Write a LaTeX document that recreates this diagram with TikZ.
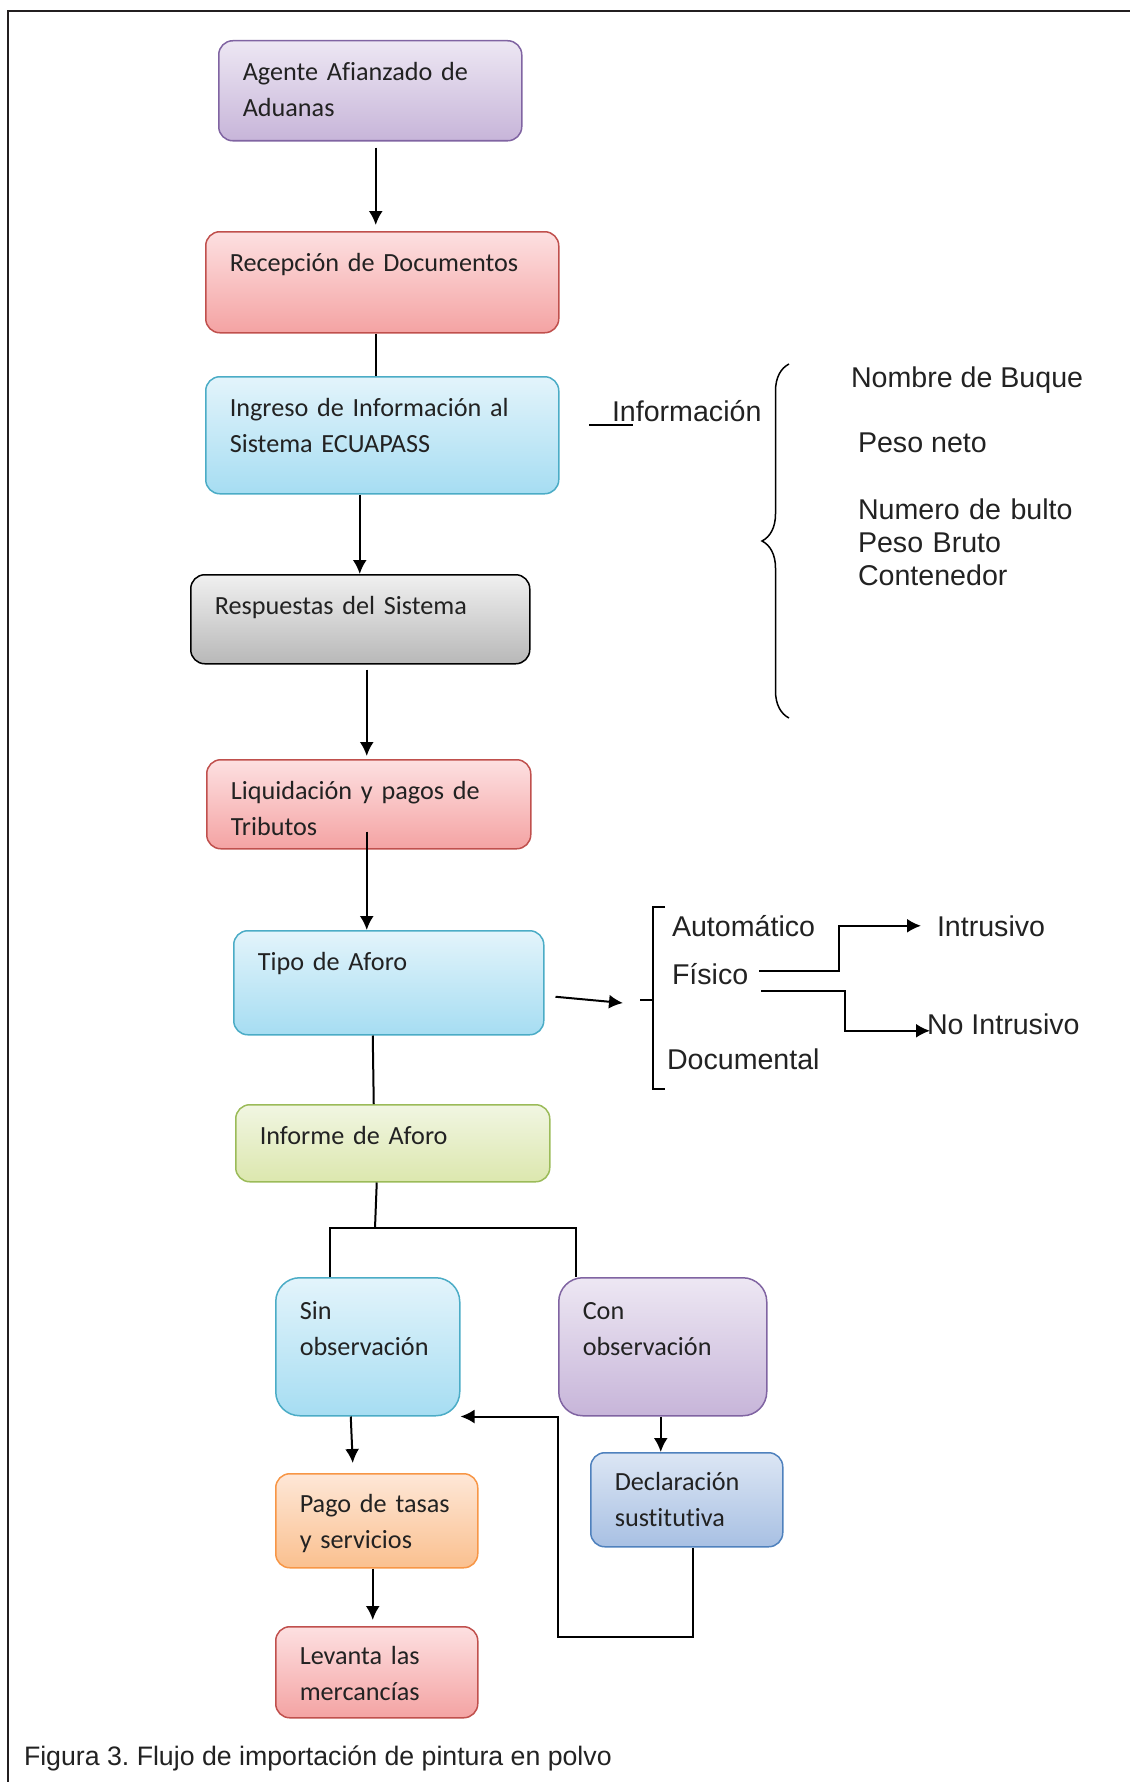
\documentclass[tikz,border=0pt]{standalone}
\usepackage{fontspec}
\setmainfont{Liberation Sans}
\newfontfamily\calib{Carlito}[Ligatures=NoCommon, WordSpace=0.75]
\frenchspacing
\usetikzlibrary{positioning,arrows.meta,decorations.pathreplacing}
\tikzset{>={Latex[length=14pt,width=14pt]}}

\definecolor{ink}{HTML}{222222}
\definecolor{framec}{HTML}{231F20}
\definecolor{purptop}{HTML}{EDE7F3}
\definecolor{purpbot}{HTML}{C7B5D9}
\definecolor{purpline}{HTML}{8064A2}
\definecolor{redtop}{HTML}{FDE0E1}
\definecolor{redbot}{HTML}{F4A3A3}
\definecolor{redline}{HTML}{C0504D}
\definecolor{aquatop}{HTML}{E3F4FB}
\definecolor{aquabot}{HTML}{A6DDF2}
\definecolor{aqualine}{HTML}{4BACC6}
\definecolor{graytop}{HTML}{F0F0F0}
\definecolor{graybot}{HTML}{B8B8B8}
\definecolor{greentop}{HTML}{F1F6E2}
\definecolor{greenbot}{HTML}{DCE7AE}
\definecolor{greenline}{HTML}{9BBB59}
\definecolor{orngtop}{HTML}{FEE7D7}
\definecolor{orngbot}{HTML}{FAC08F}
\definecolor{orngline}{HTML}{F79646}
\definecolor{bluetop}{HTML}{DCE6F4}
\definecolor{bluebot}{HTML}{A8C0E3}
\definecolor{blueline}{HTML}{4F81BD}

\begin{document}
\begin{tikzpicture}[x=1pt, y=-1pt, line width=2pt, text=ink]
    \tikzset{%
      flow/.style={draw, rounded corners=14pt, line width=1.5pt, anchor=north west,
        inner xsep=24pt, inner ysep=0pt, text height=40pt, align=left,
        font=\calib\fontsize{26.2pt}{36pt}\selectfont},
      purp/.style={flow, draw=purpline, top color=purptop, bottom color=purpbot},
      redb/.style={flow, draw=redline, top color=redtop, bottom color=redbot},
      aqua/.style={flow, draw=aqualine, top color=aquatop, bottom color=aquabot},
      grayb/.style={flow, draw=black, top color=graytop, bottom color=graybot},
      greenb/.style={flow, draw=greenline, top color=greentop, bottom color=greenbot},
      orng/.style={flow, draw=orngline, top color=orngtop, bottom color=orngbot},
      blueb/.style={flow, draw=blueline, top color=bluetop, bottom color=bluebot},
      lbl/.style={inner sep=0pt, anchor=base west, font=\fontsize{28.6pt}{33pt}\selectfont},
      thinline/.style={line width=1.5pt}
      }
    \useasboundingbox (0,0) rectangle (1130,1782);
    \draw[line width=2.5pt, framec] (8,1782) -- (8,11) -- (1130,11);

    % main column
    \node [purp, text width=255pt, text depth=60pt] (agente) at (218,40) {Agente Afianzado de\\Aduanas};
    \node [redb, text width=305pt, text depth=61pt] (recep) at (205,231) {Recepción de Documentos};
    \node [aqua, text width=305pt, text depth=77pt] (ingreso) at (205,376) {Ingreso de Información al\\Sistema ECUAPASS};
    \node [grayb, text width=291pt, text depth=49pt] (resp) at (190,574) {Respuestas del Sistema};
    \node [redb, text width=276pt, text depth=49pt] (liquid) at (206,759) {Liquidación y pagos de\\Tributos};
    \node [aqua, text width=262pt, text depth=64pt] (tipo) at (233,930) {Tipo de Aforo};
    \node [greenb, text width=266pt, text depth=37pt] (informe) at (235,1104) {Informe de Aforo};

    \draw [->] ([xshift=5.5pt,yshift=-6pt]agente.south) -- ([xshift=-6.5pt,yshift=6pt]recep.north);
    \draw ([xshift=-6.5pt]recep.south) -- ([xshift=-6.5pt]ingreso.north);
    \draw [->] ([xshift=-22.5pt]ingreso.south) -- ([xshift=-0.5pt]resp.north);
    \draw [->] ([xshift=6.5pt,yshift=-5pt]resp.south) -- ([xshift=-2pt,yshift=3pt]liquid.north);
    \draw [->] ([xshift=-2pt,yshift=18pt]liquid.south) -- ([xshift=-22pt]tipo.north);
    \draw ([xshift=-16pt]tipo.south) -- ([xshift=-19pt]informe.north);

    % informacion
    \node [lbl] (info) at (611,421) {Información};
    \draw [thinline] ([xshift=-22pt,yshift=-4pt]info.base west) -- ([xshift=22pt,yshift=-4pt]info.base west);
    \draw [thinline, decorate, decoration={brace, amplitude=27pt}] (789,718) -- (789,364);
    \node [lbl] (buque) at (850,387) {Nombre de Buque};
    \node [lbl] (neto) at (857,452) {Peso neto};
    \node [lbl, text width=230pt, align=left] (bulto) at (857,519) {Numero de bulto\\Peso Bruto\\Contenedor};

    % tipos de aforo
    \coordinate (aforo) at (640,1000);
    \draw [thinline] (665,907) -| (653,1089) -- (665,1089);
    \draw [thinline] (653,1000) -- (aforo);
    \draw [->] ([xshift=11pt,yshift=-14pt]tipo.east) -- ([xshift=-17pt,yshift=-3pt]aforo);
    \node [lbl] (auto) at (671,936) {Automático};
    \node [lbl] (fisico) at (671,984) {Físico};
    \node [lbl] (docu) at (666,1069) {Documental};
    \node [lbl] (intrus) at (936,936) {Intrusivo};
    \node [lbl] (nointrus) at (926,1034) {No Intrusivo};
    \draw [->] ([xshift=10pt,yshift=3pt]fisico.east) -| ([xshift=-97pt]intrus.west) -- ([xshift=-15pt]intrus.west);
    \draw [->] ([xshift=12pt,yshift=-17pt]fisico.east) -| ([xshift=-81pt,yshift=-7pt]nointrus.west) -- ([xshift=4pt,yshift=-7pt]nointrus.west);

    % resultado del aforo
    \node [aqua, rounded corners=24pt, text width=136pt, text depth=96pt, text height=42pt] (sin) at (275,1277) {Sin\\observación};
    \node [purp, rounded corners=24pt, text width=160pt, text depth=96pt, text height=42pt] (con) at (558,1277) {Con\\observación};
    \node [orng, text width=154pt, text depth=55pt, text height=39pt] (pago) at (275,1473) {Pago de tasas\\y servicios};
    \node [redb, text width=154pt, text depth=53pt, text height=38pt] (levanta) at (275,1626) {Levanta las\\mercancías};
    \node [blueb, text width=144pt, text depth=56pt, text height=38pt] (decl) at (590,1452) {Declaración\\sustitutiva};

    \coordinate (split) at (375,1228);
    \draw ([xshift=-16pt]informe.south) -- (split);
    \draw ([xshift=-38pt]sin.north) |- (split) -| ([xshift=-87pt]con.north);
    \draw [->] ([xshift=-17pt]sin.south) -- ([xshift=-24pt,yshift=10pt]pago.north);
    \draw [->] ([xshift=-4pt]pago.south) -- ([xshift=-4pt,yshift=6pt]levanta.north);
    \draw [->] ([xshift=-2pt]con.south) -- ([xshift=-26pt]decl.north);
    \draw [->] ([xshift=6pt]decl.south) |- ([yshift=-220pt]con.south west) -- (con.south west) -- (sin.south east);

    \node [lbl, font=\fontsize{26.7pt}{32pt}\selectfont] (caption) at (23,1765) {Figura 3. Flujo de importación de pintura en polvo};
\end{tikzpicture}
\end{document}
